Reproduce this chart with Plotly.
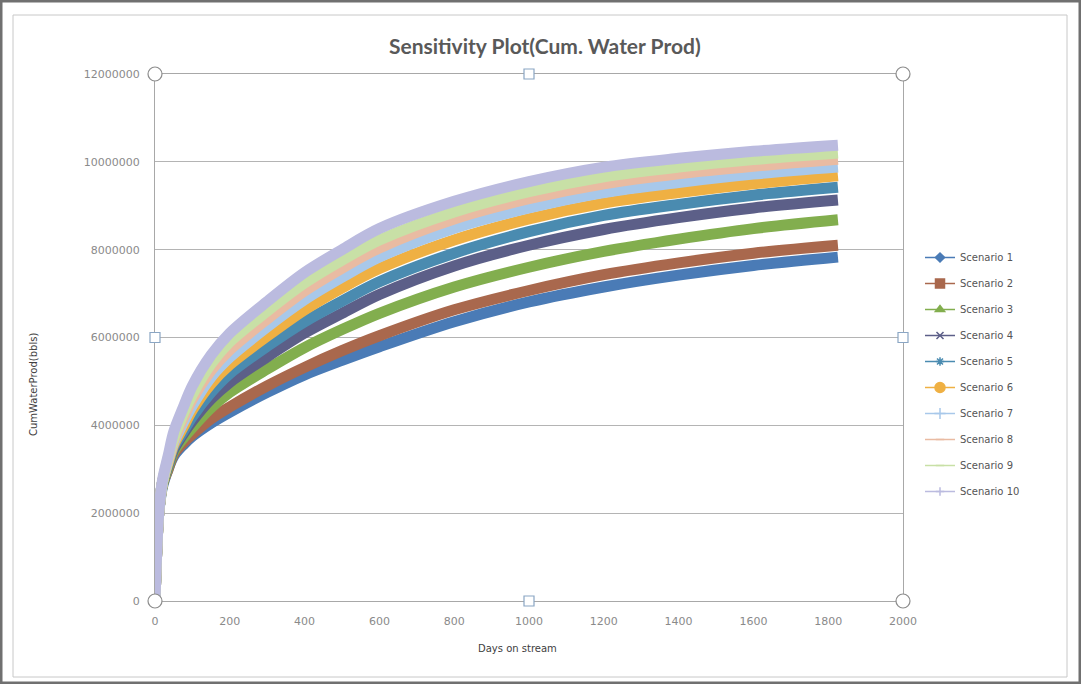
import plotly.graph_objects as go

# Days on stream at which cumulative water production is sampled
days = [0, 5, 10, 20, 35, 50, 75, 100, 150, 200, 300, 400, 500, 600,
        800, 1000, 1200, 1400, 1600, 1826]

# Cumulative water production per scenario, in millions of bbls
scenario_1 = [0, 1.2, 2.0, 2.6, 3.0, 3.3, 3.55, 3.75, 4.05, 4.3, 4.75, 5.15, 5.48, 5.79,
              6.36, 6.81, 7.15, 7.42, 7.64, 7.83]
scenario_2 = [0, 1.2, 2.0, 2.65, 3.0, 3.35, 3.6, 3.8, 4.15, 4.42, 4.9, 5.32, 5.7, 6.04,
              6.63, 7.07, 7.43, 7.7, 7.92, 8.1]
scenario_3 = [0, 1.2, 2.0, 2.65, 3.05, 3.4, 3.7, 3.95, 4.4, 4.75, 5.28, 5.77, 6.18, 6.55,
              7.15, 7.6, 7.96, 8.24, 8.48, 8.68]
scenario_4 = [0, 1.2, 2.0, 2.7, 3.1, 3.45, 3.8, 4.1, 4.6, 4.98, 5.56, 6.1, 6.55, 6.98,
              7.63, 8.1, 8.46, 8.73, 8.95, 9.13]
scenario_5 = [0, 1.2, 2.0, 2.7, 3.1, 3.5, 3.85, 4.2, 4.75, 5.18, 5.8, 6.36, 6.83, 7.27,
              7.92, 8.41, 8.78, 9.03, 9.24, 9.42]
scenario_6 = [0, 1.2, 2.0, 2.7, 3.15, 3.55, 3.95, 4.35, 4.95, 5.38, 6.03, 6.63, 7.13, 7.57,
              8.22, 8.7, 9.06, 9.3, 9.5, 9.68]
scenario_7 = [0, 1.2, 2.0, 2.7, 3.2, 3.6, 4.05, 4.45, 5.1, 5.55, 6.24, 6.86, 7.37, 7.83,
              8.49, 8.95, 9.3, 9.53, 9.72, 9.88]
scenario_8 = [0, 1.2, 2.0, 2.7, 3.2, 3.65, 4.15, 4.6, 5.25, 5.72, 6.42, 7.06, 7.58, 8.04,
              8.7, 9.16, 9.5, 9.73, 9.9, 10.06]
scenario_9 = [0, 1.2, 2.0, 2.7, 3.25, 3.7, 4.25, 4.7, 5.4, 5.9, 6.6, 7.24, 7.76, 8.22,
              8.86, 9.32, 9.66, 9.88, 10.05, 10.2]
scenario_10 = [0, 1.2, 2.0, 2.75, 3.3, 3.85, 4.4, 4.9, 5.6, 6.1, 6.82, 7.48, 8.0, 8.48,
               9.1, 9.55, 9.88, 10.08, 10.24, 10.38]

series = [scenario_1, scenario_2, scenario_3, scenario_4, scenario_5,
          scenario_6, scenario_7, scenario_8, scenario_9, scenario_10]
names = [f"Scenario {i}" for i in range(1, 11)]

y_ticks = [0, 2000000, 4000000, 6000000, 8000000, 10000000, 12000000]
x_ticks = [0, 200, 400, 600, 800, 1000, 1200, 1400, 1600, 1800, 2000]

colors = ["#4a7bb6", "#a9684d", "#82ae4e", "#5c5f88", "#4a8bb0",
          "#efb043", "#a8c8ea", "#e9bba2", "#c8e0a6", "#bbbbdf"]
symbols = ["diamond", "square", "triangle-up", "x-thin-open", "asterisk-open",
           "circle", "cross-thin-open", "line-ew-open", "line-ew-open", "cross-thin-open"]
msizes = [7, 9, 8, 7, 7, 10, 8, 6, 6, 6]

fig = go.Figure()

# Thick bands for the dense marker runs of each scenario
for name, vals, c in zip(names, series, colors):
    fig.add_trace(go.Scatter(
        x=days, y=[v * 1e6 for v in vals], mode="lines", name=name,
        line=dict(color=c, width=11, shape="spline", smoothing=0.9),
        showlegend=False, hoverinfo="x+y+name"))

# Legend entries: thin line with the scenario's marker
for name, c, s, ms in zip(names, colors, symbols, msizes):
    fig.add_trace(go.Scatter(
        x=[None], y=[None], mode="lines+markers", name=name, legendgroup=name,
        line=dict(color=c, width=1.5),
        marker=dict(symbol=s, size=ms, color=c, line=dict(color=c, width=1.5))))

# Plot area geometry in pixels
L, T, W, H = 155, 74, 748, 527


def px(x):
    return (x - L) / W


def py(y):
    return (T + H - y) / H


shapes = []
# Outer chart frame
shapes.append(dict(type="rect", xref="paper", yref="paper",
                   x0=px(1), x1=px(1080), y0=py(683), y1=py(1),
                   line=dict(color="#707070", width=3), layer="below"))
shapes.append(dict(type="rect", xref="paper", yref="paper",
                   x0=px(13), x1=px(1067), y0=py(677), y1=py(15),
                   line=dict(color="#c8c8c8", width=1), layer="below"))

# Selection handles on the plot area border
for hx, hy in [(0, 0), (0, 1), (1, 0), (1, 1)]:
    shapes.append(dict(type="circle", xref="paper", yref="paper",
                       xsizemode="pixel", ysizemode="pixel", xanchor=hx, yanchor=hy,
                       x0=-7, x1=7, y0=-7, y1=7, fillcolor="white",
                       line=dict(color="#8c8c8c", width=1.2)))
for hx, hy in [(0.5, 0), (0.5, 1), (0, 0.5), (1, 0.5)]:
    shapes.append(dict(type="rect", xref="paper", yref="paper",
                       xsizemode="pixel", ysizemode="pixel", xanchor=hx, yanchor=hy,
                       x0=-5, x1=5, y0=-5, y1=5, fillcolor="white",
                       line=dict(color="#8aa6c4", width=1.2)))

annotations = [
    dict(text="<b>Sensitivity Plot(Cum. Water Prod)</b>", xref="paper", yref="paper",
         x=px(545), y=py(45), xanchor="center", yanchor="middle", showarrow=False,
         font=dict(family="Lato", size=21, color="#595959")),
    dict(text="Days on stream", xref="paper", yref="paper",
         x=px(517), y=py(648), xanchor="center", yanchor="middle", showarrow=False,
         font=dict(family="DejaVu Sans", size=10, color="#404040")),
    dict(text="CumWaterProd(bbls)", xref="paper", yref="paper", textangle=-90,
         x=px(33), y=py(384), xanchor="center", yanchor="middle", showarrow=False,
         font=dict(family="DejaVu Sans", size=10, color="#404040")),
]

fig.update_layout(
    width=1081, height=684,
    margin=dict(l=L, r=1081 - L - W, t=T, b=684 - T - H),
    paper_bgcolor="white", plot_bgcolor="white",
    showlegend=True,
    legend=dict(x=px(920), y=py(243), xanchor="left", yanchor="top",
                font=dict(family="DejaVu Sans", size=10, color="#555555"),
                tracegroupgap=7, bgcolor="rgba(0,0,0,0)"),
    shapes=shapes,
    annotations=annotations,
)

fig.update_xaxes(range=[0, 2000], tickvals=x_ticks, ticktext=[str(t) for t in x_ticks],
                 showgrid=False, zeroline=False, showline=True, mirror=True,
                 linecolor="#a8a8a8", linewidth=1, ticks="",
                 ticklabelstandoff=10,
                 tickfont=dict(family="DejaVu Sans", size=11, color="#8a8a8a"))
fig.update_yaxes(range=[0, 12000000], tickvals=y_ticks, ticktext=[str(t) for t in y_ticks],
                 showgrid=True, gridcolor="#b4b4b4", gridwidth=1,
                 zeroline=False, showline=True, mirror=True,
                 linecolor="#a8a8a8", linewidth=1, ticks="",
                 ticklabelstandoff=12,
                 tickfont=dict(family="DejaVu Sans", size=11, color="#8a8a8a"))

fig.write_html("out.html")
